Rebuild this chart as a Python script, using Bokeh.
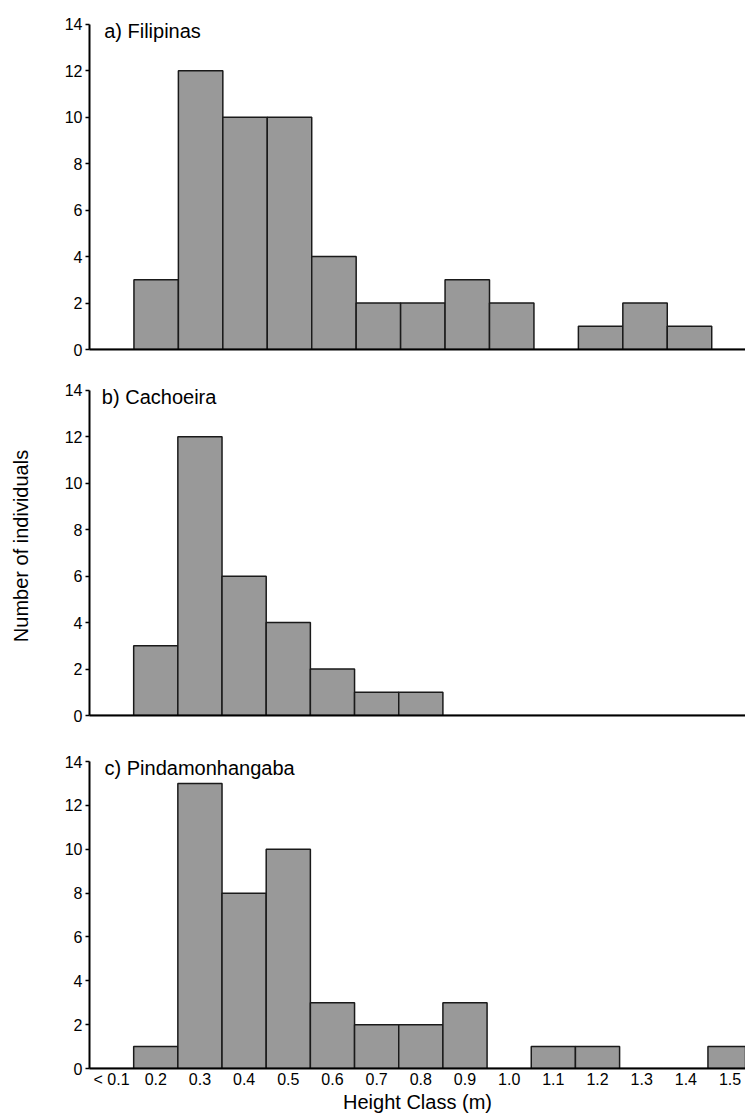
from bokeh.plotting import figure
from bokeh.layouts import column
from bokeh.models import FixedTicker, Range1d
from bokeh.core.properties import value
from bokeh.embed import file_html
from bokeh.resources import INLINE

# ---- data ----
height_classes = ["< 0.1", "0.2", "0.3", "0.4", "0.5", "0.6", "0.7", "0.8",
                  "0.9", "1.0", "1.1", "1.2", "1.3", "1.4", "1.5"]
filipinas = [0, 3, 12, 10, 10, 4, 2, 2, 3, 2, 0, 1, 2, 1, 0]
cachoeira = [0, 3, 12, 6, 4, 2, 1, 1, 0, 0, 0, 0, 0, 0, 0]
pindamonhangaba = [0, 1, 13, 8, 10, 3, 2, 2, 3, 0, 1, 1, 0, 0, 1]
panel_titles = ["a) Filipinas", "b) Cachoeira", "c) Pindamonhangaba"]
y_ticks = [0, 2, 4, 6, 8, 10, 12, 14]
y_label = "Number of individuals"
x_label = "Height Class (m)"

FONT = "Liberation Sans"
FILL = "#999999"
EDGE = "#1a1a1a"


def make_panel(values, title, left, frame_h, top, bottom, x_end, title_x,
               show_x=False, ylab=False):
    p = figure(width=745, height=top + frame_h + bottom,
               min_border_left=left, min_border_right=0,
               min_border_top=top, min_border_bottom=bottom,
               x_range=Range1d(-0.5, x_end), y_range=Range1d(0, 14.6),
               output_backend="svg", toolbar_location=None)
    p.outline_line_color = None
    p.xgrid.visible = False
    p.ygrid.visible = False
    p.background_fill_color = "white"

    xs = list(range(len(height_classes)))
    p.vbar(x=xs, top=values, bottom=0, width=1.0,
           fill_color=FILL, line_color=EDGE, line_width=1.5)

    p.text(x=[title_x], y=[13.7], text=[title],
           text_font=value(FONT), text_font_size="20px",
           text_align="left", text_baseline="alphabetic", text_color="black")

    # y axis
    ya = p.yaxis[0]
    ya.ticker = FixedTicker(ticks=y_ticks)
    ya.bounds = (0, 14)
    ya.axis_line_width = 2
    ya.axis_line_color = "black"
    ya.major_tick_out = 4
    ya.major_tick_in = 0
    ya.major_tick_line_width = 1.5
    ya.minor_tick_line_color = None
    ya.major_label_standoff = 3
    ya.major_label_text_font = FONT
    ya.major_label_text_font_size = "16px"
    ya.major_label_text_color = "black"
    if ylab:
        ya.axis_label = y_label
        ya.axis_label_text_font = FONT
        ya.axis_label_text_font_size = "20px"
        ya.axis_label_text_font_style = "normal"
        ya.axis_label_text_color = "black"
        ya.axis_label_standoff = 30

    # x axis
    xa = p.xaxis[0]
    xa.axis_line_width = 2
    xa.axis_line_color = "black"
    xa.major_tick_line_color = None
    xa.major_tick_out = 0
    xa.major_tick_in = 0
    xa.minor_tick_line_color = None
    if show_x:
        xa.ticker = FixedTicker(ticks=xs)
        xa.major_label_overrides = {i: c for i, c in enumerate(height_classes)}
        xa.major_label_standoff = 2
        xa.major_label_text_font = FONT
        xa.major_label_text_font_size = "16px"
        xa.major_label_text_color = "black"
        xa.axis_label = x_label
        xa.axis_label_text_font = FONT
        xa.axis_label_text_font_size = "20px"
        xa.axis_label_text_font_style = "normal"
        xa.axis_label_text_color = "black"
        xa.axis_label_standoff = 0
    else:
        xa.ticker = FixedTicker(ticks=[])
        xa.major_label_standoff = 0
    return p


pa = make_panel(filipinas, panel_titles[0], 89, 339, 10, 17, 14.26, -0.17)
pb = make_panel(cachoeira, panel_titles[1], 86, 339, 10, 23, 14.35, -0.22,
                ylab=True)
pc = make_panel(pindamonhangaba, panel_titles[2], 86, 320, 10, 47, 14.35, -0.16,
                show_x=True)

layout = column(pa, pb, pc, spacing=0)
open("out.html", "w").write(file_html(layout, INLINE))
